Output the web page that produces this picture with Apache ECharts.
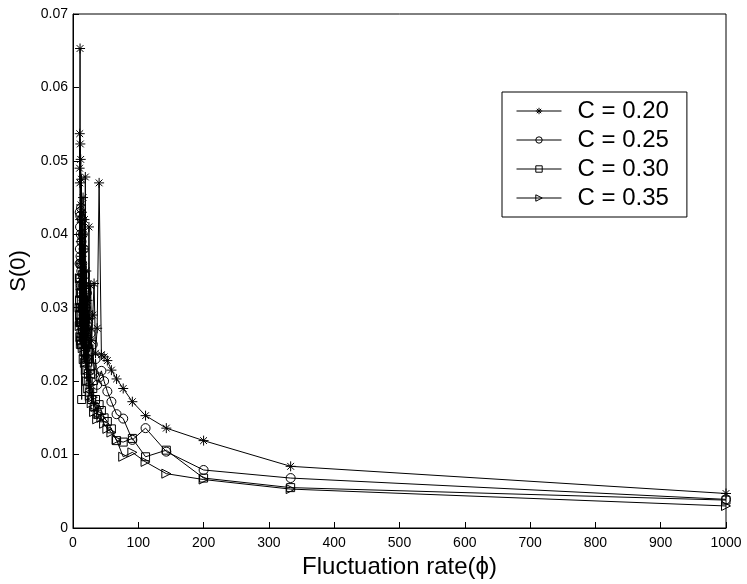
<!DOCTYPE html>
<html>
<head>
<meta charset="utf-8">
<script src="https://cdn.jsdelivr.net/npm/echarts@6/dist/echarts.min.js"></script>
<style>
html,body{margin:0;padding:0;background:#fff;}
#chart{width:747px;height:584px;}
</style>
</head>
<body>
<div id="chart"></div>
<script>
// Fluctuation rate (x) values shared by all series
var xValues = [1000, 333.3, 200, 142.9, 111.1, 90.9, 76.9, 66.7, 58.8, 52.6, 47.6, 43.5, 40, 37, 34.5, 32.3, 30.3, 28.6, 27, 25.6, 24.4, 23.3, 22.2, 21.3, 20.4, 19.6, 18.9, 18.2, 17.5, 16.9, 16.4, 15.9, 15.4, 14.9, 14.5, 14.1, 13.7, 13.3, 13, 12.7, 12.3, 12, 11.8, 11.5, 11.2, 11, 10.8, 10.5, 10.3, 10.1];

var sC020 = [0.0047, 0.0084, 0.0119, 0.0136, 0.0153, 0.0172, 0.0190, 0.0203, 0.0215, 0.0228, 0.0233, 0.0236, 0.0470, 0.0272, 0.0238, 0.0333, 0.0290, 0.0255, 0.0330, 0.0285, 0.0410, 0.0270, 0.0310, 0.0262, 0.0350, 0.0300, 0.0478, 0.0330, 0.0420, 0.0290, 0.0380, 0.0320, 0.0450, 0.0350, 0.0400, 0.0305, 0.0430, 0.0370, 0.0475, 0.0340, 0.0440, 0.0390, 0.0502, 0.0360, 0.0523, 0.0420, 0.0653, 0.0470, 0.0537, 0.0490];

var sC025 = [0.0039, 0.0068, 0.0079, 0.0104, 0.0136, 0.0120, 0.0149, 0.0155, 0.0172, 0.0186, 0.0200, 0.0214, 0.0205, 0.0195, 0.0230, 0.0210, 0.0250, 0.0220, 0.0265, 0.0240, 0.0290, 0.0230, 0.0275, 0.0320, 0.0250, 0.0300, 0.0270, 0.0345, 0.0280, 0.0310, 0.0380, 0.0290, 0.0330, 0.0400, 0.0300, 0.0360, 0.0420, 0.0320, 0.0390, 0.0350, 0.0436, 0.0330, 0.0400, 0.0370, 0.0425, 0.0340, 0.0410, 0.0380, 0.0430, 0.0360];

var sC030 = [0.0038, 0.0055, 0.0068, 0.0106, 0.0097, 0.0122, 0.0117, 0.0119, 0.0135, 0.0145, 0.0150, 0.0160, 0.0168, 0.0155, 0.0175, 0.0165, 0.0190, 0.0175, 0.0210, 0.0185, 0.0230, 0.0200, 0.0250, 0.0215, 0.0270, 0.0230, 0.0328, 0.0240, 0.0290, 0.0250, 0.0310, 0.0260, 0.0280, 0.0345, 0.0270, 0.0300, 0.0330, 0.0175, 0.0280, 0.0320, 0.0260, 0.0300, 0.0360, 0.0280, 0.0250, 0.0320, 0.0290, 0.0340, 0.0280, 0.0310];

var sC035 = [0.0030, 0.0053, 0.0066, 0.0074, 0.0090, 0.0103, 0.0097, 0.0120, 0.0130, 0.0135, 0.0142, 0.0150, 0.0155, 0.0148, 0.0165, 0.0158, 0.0178, 0.0170, 0.0195, 0.0180, 0.0210, 0.0190, 0.0230, 0.0200, 0.0250, 0.0215, 0.0270, 0.0225, 0.0240, 0.0285, 0.0230, 0.0260, 0.0300, 0.0245, 0.0275, 0.0310, 0.0250, 0.0290, 0.0265, 0.0320, 0.0255, 0.0300, 0.0280, 0.0330, 0.0260, 0.0310, 0.0290, 0.0340, 0.0275, 0.0300];

var seriesNames = ['C = 0.20', 'C = 0.25', 'C = 0.30', 'C = 0.35'];
var seriesValues = [sC020, sC025, sC030, sC035];

var asterisk = 'path://M5 0L5 10M0 5L10 5M1.6 1.6L8.4 8.4M1.6 8.4L8.4 1.6';
var markers = [
  {symbol: asterisk, size: 10, rotate: 0},
  {symbol: 'circle', size: 9, rotate: 0},
  {symbol: 'rect', size: 8, rotate: 0},
  {symbol: 'triangle', size: 9, rotate: -90}
];

var FONT = '"Liberation Sans", Arial, Helvetica, sans-serif';

function pairs(ys) {
  var out = [];
  for (var i = 0; i < ys.length; i++) out.push([xValues[i], ys[i]]);
  return out;
}

var series = seriesValues.map(function (ys, k) {
  return {
    name: seriesNames[k],
    type: 'line',
    data: pairs(ys),
    symbol: markers[k].symbol,
    symbolSize: markers[k].size,
    symbolRotate: markers[k].rotate,
    showAllSymbol: true,
    clip: false,
    lineStyle: {color: '#000', width: 1},
    itemStyle: {color: 'rgba(0,0,0,0)', borderColor: '#000', borderWidth: 1},
    emphasis: {disabled: true},
    z: 2 + k
  };
});

var chart = echarts.init(document.getElementById('chart'), null, {renderer: 'canvas'});
chart.setOption({
  animation: false,
  backgroundColor: '#fff',
  grid: {
    left: 73, right: 21, top: 14, bottom: 56,
    outerBoundsMode: 'none',
    containLabel: false,
    show: true, borderColor: '#000', borderWidth: 1, backgroundColor: 'transparent'
  },
  legend: {
    orient: 'vertical',
    left: 502, top: 92,
    data: seriesNames,
    itemWidth: 45,
    itemHeight: 8,
    itemGap: 5,
    padding: [7, 18, 7, 14],
    borderColor: '#000',
    borderWidth: 1,
    backgroundColor: '#fff',
    selectedMode: false,
    itemStyle: {color: 'rgba(0,0,0,0)', borderColor: '#000', borderWidth: 1},
    lineStyle: {color: '#000', width: 1},
    textStyle: {fontFamily: FONT, fontSize: 24, color: '#000', padding: [0, 0, 0, 11]}
  },
  xAxis: {
    type: 'value',
    min: 0, max: 1000, interval: 100,
    name: 'Fluctuation rate(\u03d5)',
    nameLocation: 'middle',
    nameGap: 25,
    nameTextStyle: {fontFamily: FONT, fontSize: 24, color: '#000'},
    axisLine: {show: true, lineStyle: {color: '#000', width: 1}},
    axisTick: {show: true, inside: true, length: 6, lineStyle: {color: '#000'}},
    axisLabel: {
      fontFamily: FONT, fontSize: 14, color: '#000', margin: 8,
      formatter: function (v) { return String(v); }
    },
    splitLine: {show: false}
  },
  yAxis: {
    type: 'value',
    min: 0, max: 0.07, interval: 0.01,
    name: 'S(0)',
    nameLocation: 'middle',
    nameGap: 43,
    nameTextStyle: {fontFamily: FONT, fontSize: 22, color: '#000'},
    axisLine: {show: true, lineStyle: {color: '#000', width: 1}},
    axisTick: {show: true, inside: true, length: 6, lineStyle: {color: '#000'}},
    axisLabel: {
      fontFamily: FONT, fontSize: 14, color: '#000', margin: 5,
      formatter: function (v) { return v === 0 ? '0' : v.toFixed(2); }
    },
    splitLine: {show: false}
  },
  series: series
});
</script>
</body>
</html>
